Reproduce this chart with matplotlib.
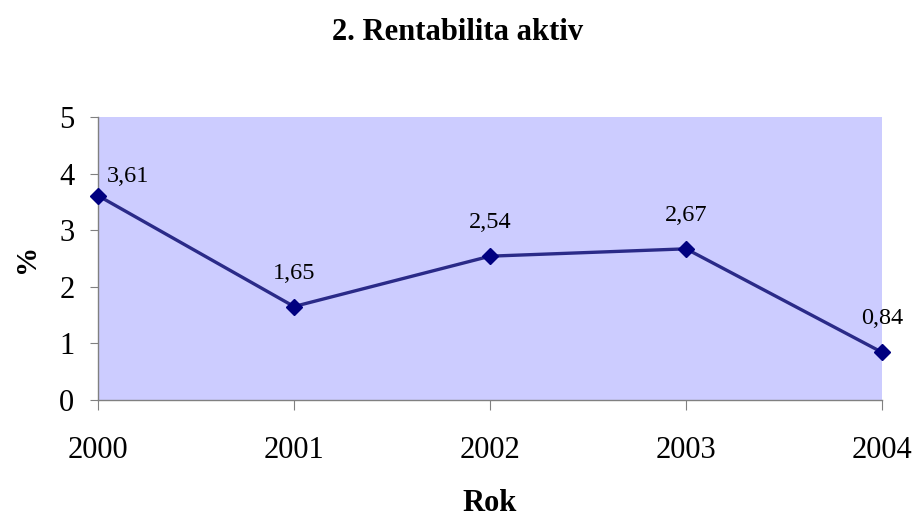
import matplotlib.pyplot as plt

# data
roky = ['2000', '2001', '2002', '2003', '2004']
rentabilita = [3.61, 1.65, 2.54, 2.67, 0.84]
popisky = ['3,61', '1,65', '2,54', '2,67', '0,84']

plt.rcParams['font.family'] = ['Liberation Serif', 'DejaVu Serif']

fig = plt.figure(figsize=(9.16, 5.2), dpi=100)
ax = fig.add_axes([0.107, 0.231, 0.856, 0.544])

ax.set_facecolor('#CCCCFF')
x = list(range(len(roky)))
ax.plot(x, rentabilita, color='#2A2A88', linewidth=2.4, marker='D', markersize=8,
        markerfacecolor='#000080', markeredgecolor='#000080', zorder=3, clip_on=False)

# popisky hodnot
for i, (xi, yi) in enumerate(zip(x, rentabilita)):
    if i == 0:
        ax.annotate(popisky[i], (xi, yi), xytext=(6.5, 6.5), textcoords='offset points',
                    ha='left', va='bottom', fontsize=17.5)
    else:
        ax.annotate(popisky[i], (xi, yi), xytext=(0, 16.5), textcoords='offset points',
                    ha='center', va='bottom', fontsize=17.5)

ax.set_xlim(0, len(roky) - 1)
ax.set_ylim(0, 5)
ax.set_xticks(x)
ax.set_xticklabels(roky)
ax.set_yticks(range(0, 6))

for s in ['top', 'right']:
    ax.spines[s].set_visible(False)
for s in ['left', 'bottom']:
    ax.spines[s].set_color('#808080')
    ax.spines[s].set_linewidth(1)

ax.tick_params(axis='x', direction='out', length=7, color='#808080', labelsize=22, pad=19)
ax.tick_params(axis='y', direction='out', length=6, color='#808080', labelsize=22, pad=11)

ax.set_xlabel('Rok', fontsize=22, fontweight='bold', labelpad=17)
ax.set_ylabel('%', fontsize=21, fontweight='bold', labelpad=14)

fig.text(0.5, 0.938, '2. Rentabilita aktiv', ha='center', va='center',
         fontsize=22, fontweight='bold')

fig.savefig('out.png', dpi=100)
